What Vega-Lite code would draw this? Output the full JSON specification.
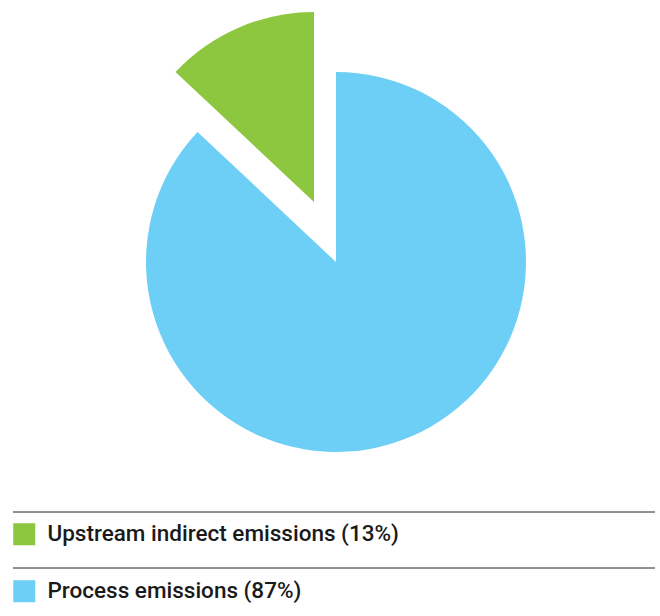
{
  "$schema": "https://vega.github.io/schema/vega-lite/v6.json",
  "background": "white",
  "padding": {"left": 12, "right": 6, "top": 0, "bottom": 0},
  "spacing": 0,
  "datasets": {
    "emissions": [
      {"category": "Upstream indirect emissions (13%)", "share": 13},
      {"category": "Process emissions (87%)", "share": 87}
    ]
  },
  "vconcat": [
    {
      "width": 642,
      "height": 511,
      "data": {"name": "emissions"},
      "layer": [
        {
          "mark": {"type": "arc", "outerRadius": 190, "xOffset": 2, "yOffset": 6.5},
          "encoding": {
            "theta": {"field": "share", "type": "quantitative", "stack": true},
            "color": {
              "field": "category",
              "type": "nominal",
              "scale": {
                "domain": ["Upstream indirect emissions (13%)", "Process emissions (87%)"],
                "range": ["#8dc63f", "#6dcff6"]
              },
              "legend": {
                "orient": "none",
                "legendX": 0,
                "legendY": 523,
                "title": null,
                "symbolType": "square",
                "symbolSize": 484,
                "symbolStrokeWidth": 0,
                "symbolOpacity": 1,
                "labelFont": "Roboto",
                "labelFontSize": 22.5,
                "labelFontWeight": 500,
                "labelColor": "#1a1a1a",
                "labelLimit": 0,
                "labelOffset": 12,
                "rowPadding": 34,
                "padding": 0
              }
            },
            "opacity": {
              "condition": {"test": "datum.category === 'Process emissions (87%)'", "value": 1},
              "value": 0
            }
          }
        },
        {
          "mark": {"type": "arc", "outerRadius": 190, "xOffset": -20, "yOffset": -53.5},
          "encoding": {
            "theta": {"field": "share", "type": "quantitative", "stack": true},
            "color": {"field": "category", "type": "nominal"},
            "opacity": {
              "condition": {"test": "datum.category === 'Upstream indirect emissions (13%)'", "value": 1},
              "value": 0
            }
          }
        }
      ]
    },
    {
      "width": 642,
      "height": {"step": 56},
      "data": {"name": "emissions"},
      "mark": {"type": "rule", "color": "#222222", "strokeWidth": 1},
      "encoding": {
        "y": {
          "field": "category",
          "type": "nominal",
          "bandPosition": 0,
          "sort": ["Upstream indirect emissions (13%)", "Process emissions (87%)"],
          "scale": {"type": "band", "paddingInner": 0, "paddingOuter": 0},
          "axis": null
        }
      }
    }
  ],
  "config": {
    "view": {"stroke": null}
  }
}
